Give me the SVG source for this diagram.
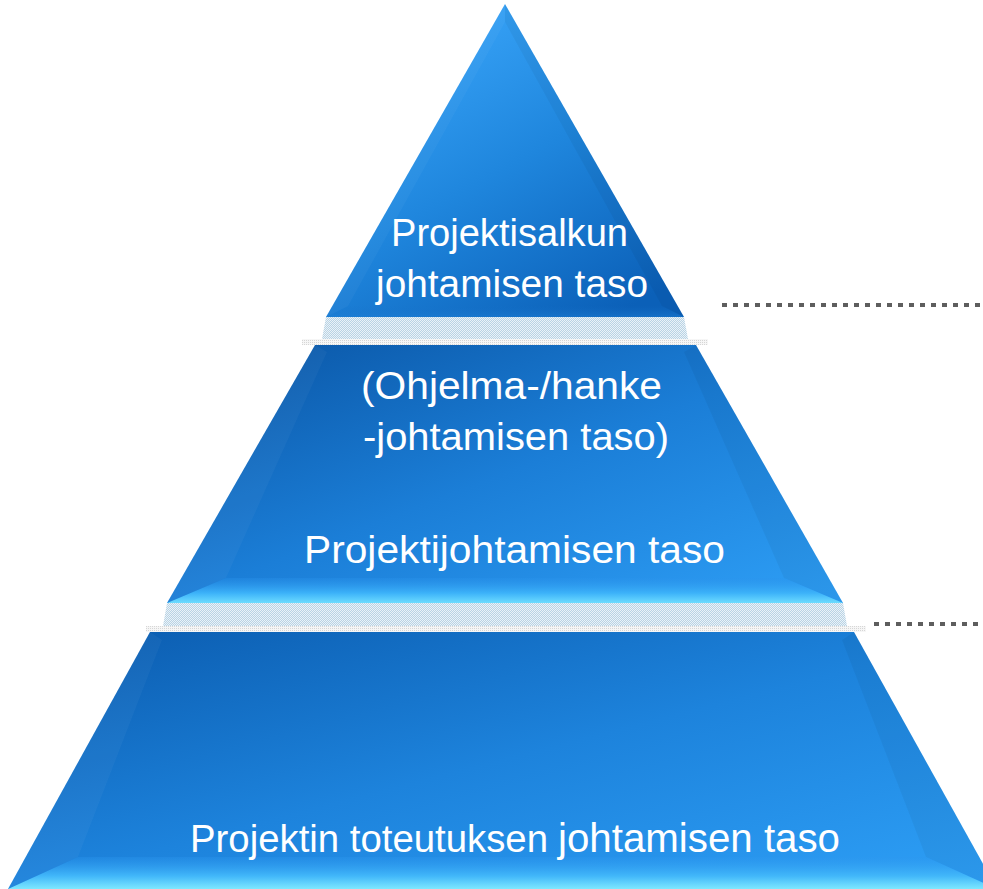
<svg xmlns="http://www.w3.org/2000/svg" width="983" height="889" viewBox="0 0 983 889">
<style>
.lbl{font-family:"Liberation Sans","DejaVu Sans",sans-serif;fill:#ffffff;font-size:38px}
.dots{stroke:#5e5e5e;stroke-width:4;stroke-dasharray:5 6;fill:none}
.lface{fill:#ffffff;fill-opacity:0.035}
.rface{fill:#000000;fill-opacity:0.045}
</style>
<defs>
<linearGradient id="gTop" x1="0.2" y1="0.05" x2="0.8" y2="1">
<stop offset="0" stop-color="#3aa6fa"/>
<stop offset="0.5" stop-color="#1f86dd"/>
<stop offset="1" stop-color="#0b60b8"/>
</linearGradient>
<linearGradient id="gMid" x1="0" y1="0" x2="1" y2="1">
<stop offset="0" stop-color="#0953a2"/>
<stop offset="0.5" stop-color="#1b7ed7"/>
<stop offset="1" stop-color="#2e9ff6"/>
</linearGradient>
<linearGradient id="gBot" x1="0" y1="0" x2="1" y2="1">
<stop offset="0" stop-color="#0a5aad"/>
<stop offset="0.5" stop-color="#1d83dc"/>
<stop offset="1" stop-color="#2ea0f7"/>
</linearGradient>
<linearGradient id="gBevMid" x1="0" y1="0" x2="0" y2="1">
<stop offset="0" stop-color="#2a93ec" stop-opacity="0.3"/>
<stop offset="0.6" stop-color="#3cb2f9"/>
<stop offset="1" stop-color="#6cdcff"/>
</linearGradient>
<linearGradient id="gBevBot" x1="0" y1="0" x2="0" y2="1">
<stop offset="0" stop-color="#2c97ef" stop-opacity="0.3"/>
<stop offset="0.6" stop-color="#42b8fa"/>
<stop offset="1" stop-color="#7de8ff"/>
</linearGradient>
<linearGradient id="gBevTop" x1="0" y1="0" x2="0" y2="1">
<stop offset="0" stop-color="#1670c8" stop-opacity="0"/>
<stop offset="1" stop-color="#1e80d6" stop-opacity="0.5"/>
</linearGradient>
<pattern id="dith" width="2" height="2" patternUnits="userSpaceOnUse">
<rect width="2" height="2" fill="#b9d3e4"/>
<rect width="1" height="1" fill="#eaf2f8"/>
<rect x="1" y="1" width="1" height="1" fill="#eaf2f8"/>
</pattern>
<pattern id="dithg" width="2" height="2" patternUnits="userSpaceOnUse">
<rect width="2" height="2" fill="#f6f6f6"/>
<rect width="1" height="1" fill="#d6d6d6"/>
</pattern>
</defs>

<g id="connectors">
<line class="dots" x1="722" y1="305" x2="983" y2="305"/>
<line class="dots" x1="874" y1="624" x2="983" y2="624"/>
</g>

<g id="reflections">
<polygon points="326,317 684,317 688,339 322,339" fill="url(#dith)"/>
<polygon points="302,339 708,339 708,345 302,345" fill="url(#dithg)"/>
<polygon points="167,603 843,603 847,626 163,626" fill="url(#dith)"/>
<polygon points="146,626 866,626 866,632 146,632" fill="url(#dithg)"/>
</g>

<g id="level-top">
<polygon points="505,4 684,317 326,317" fill="url(#gTop)"/>
<polygon class="lface" points="505,4 505,22 348,306 326,317"/>
<polygon class="rface" points="505,4 505,22 662,306 684,317"/>
<polygon points="326,317 684,317 662,306 348,306" fill="url(#gBevTop)"/>
<text class="lbl" x="391" y="246" textLength="237" lengthAdjust="spacingAndGlyphs">Projektisalkun</text>
<text class="lbl" x="376" y="297" textLength="272" lengthAdjust="spacingAndGlyphs">johtamisen taso</text>
</g>

<g id="level-middle">
<polygon points="315,345 696,345 843,603 167,603" fill="url(#gMid)"/>
<polygon class="lface" points="315,345 327,352 226,578 167,603"/>
<polygon class="rface" points="696,345 684,352 784,578 843,603"/>
<polygon points="167,603 843,603 784,578 226,578" fill="url(#gBevMid)"/>
<text class="lbl" x="361" y="399" textLength="301" lengthAdjust="spacingAndGlyphs">(Ohjelma-/hanke</text>
<text class="lbl" x="363" y="450" textLength="306" lengthAdjust="spacingAndGlyphs">-johtamisen taso)</text>
<text class="lbl" x="304" y="563" textLength="421" lengthAdjust="spacingAndGlyphs">Projektijohtamisen taso</text>
</g>

<g id="level-bottom">
<polygon points="150,632 854,632 997,889 8,889" fill="url(#gBot)"/>
<polygon class="lface" points="150,632 162,640 78,857 8,889"/>
<polygon class="rface" points="854,632 842,640 926,857 997,889"/>
<polygon points="8,889 997,889 926,857 78,857" fill="url(#gBevBot)"/>
<text class="lbl" y="852"><tspan x="190" textLength="358" lengthAdjust="spacingAndGlyphs">Projektin toteutuksen</tspan><tspan x="558" font-size="40" textLength="282" lengthAdjust="spacingAndGlyphs">johtamisen taso</tspan></text>
</g>
</svg>
